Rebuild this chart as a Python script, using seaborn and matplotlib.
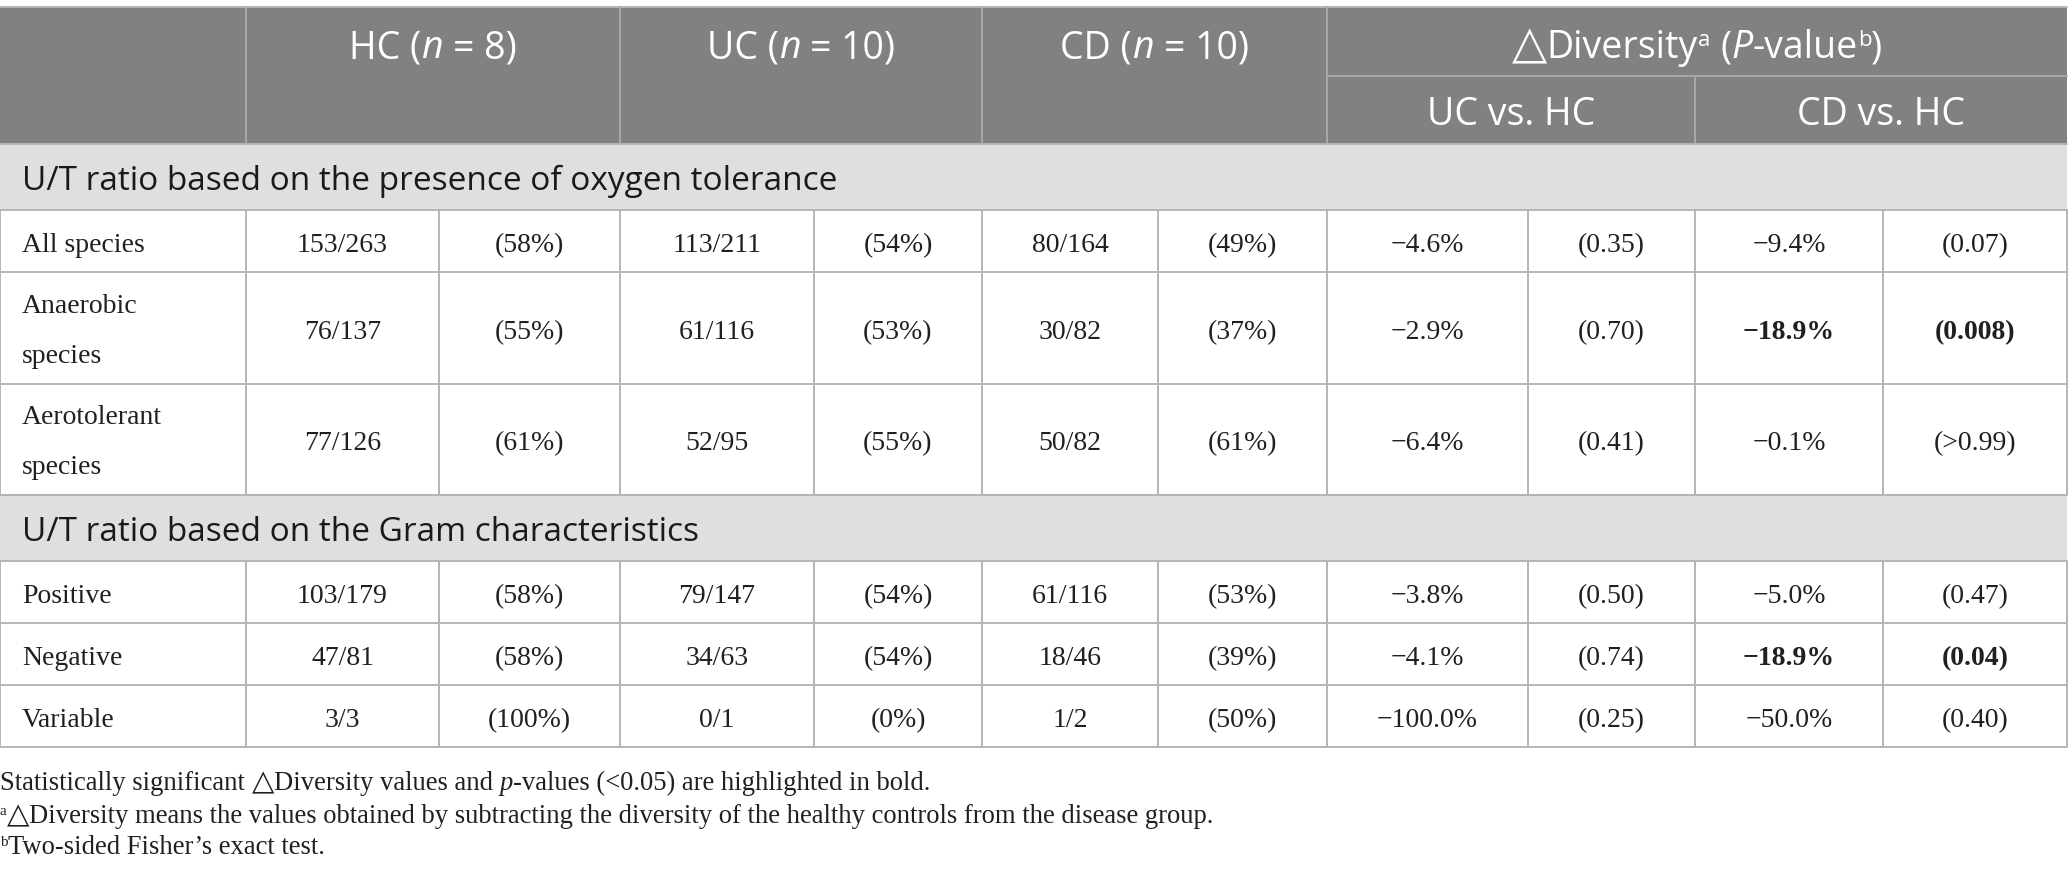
import matplotlib
matplotlib.use("Agg")
import matplotlib.pyplot as plt
from matplotlib.patches import Rectangle
import seaborn as sns

# ---- table values ----
group_names = ["HC", "UC", "CD"]
group_n = [8, 10, 10]
comparisons = ["UC vs. HC", "CD vs. HC"]
section_titles = ["U/T ratio based on the presence of oxygen tolerance",
                  "U/T ratio based on the Gram characteristics"]

oxy_labels = ["All species", "Anaerobic\nspecies", "Aerotolerant\nspecies"]
oxy_hc_u = [153, 76, 77]
oxy_hc_t = [263, 137, 126]
oxy_hc_pct = [58, 55, 61]
oxy_uc_u = [113, 61, 52]
oxy_uc_t = [211, 116, 95]
oxy_uc_pct = [54, 53, 55]
oxy_cd_u = [80, 30, 50]
oxy_cd_t = [164, 82, 82]
oxy_cd_pct = [49, 37, 61]
oxy_uc_diff = [-4.6, -2.9, -6.4]
oxy_uc_p = ["0.35", "0.70", "0.41"]
oxy_cd_diff = [-9.4, -18.9, -0.1]
oxy_cd_p = ["0.07", "0.008", ">0.99"]
oxy_cd_sig = [False, True, False]

gram_labels = ["Positive", "Negative", "Variable"]
gram_hc_u = [103, 47, 3]
gram_hc_t = [179, 81, 3]
gram_hc_pct = [58, 58, 100]
gram_uc_u = [79, 34, 0]
gram_uc_t = [147, 63, 1]
gram_uc_pct = [54, 54, 0]
gram_cd_u = [61, 18, 1]
gram_cd_t = [116, 46, 2]
gram_cd_pct = [53, 39, 50]
gram_uc_diff = [-3.8, -4.1, -100.0]
gram_uc_p = ["0.50", "0.74", "0.25"]
gram_cd_diff = [-5.0, -18.9, -50.0]
gram_cd_p = ["0.47", "0.04", "0.40"]
gram_cd_sig = [False, True, False]

# ---- layout (pixels) ----
W, H = 2068, 878
col_edges = [0, 246, 439, 620, 814, 982, 1158, 1327, 1528, 1695, 1883, 2067]
y_top, y_sub, y_head = 8, 77, 145
band_h = 66
row_h1, row_h2 = 62, 111.5
foot_y = [790, 823, 854]

HEAD_BG = "#808180"
HEAD_LINE = "#a9a9a9"
BAND_BG = "#e0dee0"
GRID = "#b5b5b5"
INK = "#231f20"

sns.set_theme(style="white")
plt.rcParams["font.family"] = ["Open Sans", "DejaVu Sans"]

SANS = dict(family=["Open Sans", "DejaVu Sans"], fontsize=24)
HEAD = dict(family=["Open Sans", "DejaVu Sans"], fontsize=27, color="white")
SERIF = dict(family=["Liberation Serif", "DejaVu Sans"], fontsize=20, color=INK)
FOOT = dict(family=["Liberation Serif", "DejaVu Sans"], fontsize=19.2, color=INK)

fig = plt.figure(figsize=(W / 100, H / 100), dpi=100)
ax = fig.add_axes([0, 0, 1, 1])
ax.set_xlim(0, W)
ax.set_ylim(H, 0)
ax.axis("off")
renderer = fig.canvas.get_renderer()


def text_w(s, style):
    if not s:
        return 0.0
    t = ax.text(0, 0, s, **style)
    w = t.get_window_extent(renderer=renderer).width
    t.remove()
    return w


def draw_runs(x, y, runs, ha="center"):
    """runs: (text, style, rise) pieces drawn on one baseline."""
    pieces = []
    total = 0.0
    for s, style, rise in runs:
        sp = text_w("a a", style) - text_w("aa", style)
        core = s.strip(" ")
        lead = len(s) - len(s.lstrip(" "))
        trail = len(s) - len(s.rstrip(" "))
        w = text_w(core, style)
        pieces.append((core, style, rise, lead * sp, w, trail * sp))
        total += lead * sp + w + trail * sp
    cx = x - total / 2 if ha == "center" else x
    for core, style, rise, lw, w, tw in pieces:
        cx += lw
        ax.text(cx, y - rise, core, ha="left", va="baseline", **style)
        cx += w + tw


def minus(v):
    return ("\u2212" if v < 0 else "") + f"{abs(v):.1f}%"


# ---- header ----
ax.add_patch(Rectangle((0, y_top), col_edges[-1], y_head - y_top,
                       facecolor=HEAD_BG, edgecolor="none"))
ax.plot([0, col_edges[-1]], [y_top, y_top], color=GRID, lw=1.4)
for xe in [col_edges[1], col_edges[3], col_edges[5], col_edges[7]]:
    ax.plot([xe, xe], [y_top, y_head], color=HEAD_LINE, lw=1.4)
ax.plot([col_edges[9], col_edges[9]], [y_sub, y_head], color=HEAD_LINE, lw=1.4)
ax.plot([col_edges[7], col_edges[-1]], [y_sub, y_sub], color=HEAD_LINE, lw=1.4)

head_it = dict(HEAD, style="italic")
head_sup = dict(HEAD, fontsize=16)
head_tri = dict(HEAD, family=["DejaVu Sans"], fontsize=33)
head_base = 58
for i, (g, n) in enumerate(zip(group_names, group_n)):
    cx = (col_edges[1 + 2 * i] + col_edges[3 + 2 * i]) / 2
    draw_runs(cx, head_base, [(g + " (", HEAD, 0), ("n", head_it, 0),
                              (f" = {n})", HEAD, 0)])
cx = (col_edges[7] + col_edges[-1]) / 2
draw_runs(cx, head_base, [("\u25b3", head_tri, 0),
                          ("Diversity", HEAD, 0), ("a", head_sup, 12),
                          (" (", HEAD, 0), ("P", head_it, 0), ("-value", HEAD, 0),
                          ("b", head_sup, 12), (")", HEAD, 0)])
for j, c in enumerate(comparisons):
    cx = (col_edges[7 + 2 * j] + col_edges[9 + 2 * j]) / 2
    draw_runs(cx, 125, [(c, HEAD, 0)])

# ---- body ----
sections = [
    (section_titles[0], oxy_labels,
     [oxy_hc_u, oxy_uc_u, oxy_cd_u], [oxy_hc_t, oxy_uc_t, oxy_cd_t],
     [oxy_hc_pct, oxy_uc_pct, oxy_cd_pct],
     [oxy_uc_diff, oxy_cd_diff], [oxy_uc_p, oxy_cd_p], oxy_cd_sig),
    (section_titles[1], gram_labels,
     [gram_hc_u, gram_uc_u, gram_cd_u], [gram_hc_t, gram_uc_t, gram_cd_t],
     [gram_hc_pct, gram_uc_pct, gram_cd_pct],
     [gram_uc_diff, gram_cd_diff], [gram_uc_p, gram_cd_p], gram_cd_sig),
]

band_text = dict(SANS, color="#1a1a1a")
y = y_head
xr = col_edges[-1]
for title, labels, us, ts, pcts, diffs, ps, sig in sections:
    ax.add_patch(Rectangle((0, y), xr, band_h, facecolor=BAND_BG, edgecolor="none"))
    ax.plot([0, xr], [y, y], color=GRID, lw=1.4)
    draw_runs(22, y + band_h / 2 + 12, [(title, band_text, 0)], ha="left")
    y += band_h
    ax.plot([0, xr], [y, y], color=GRID, lw=1.4)
    for r, lab in enumerate(labels):
        h = row_h2 if "\n" in lab else row_h1
        mid = y + h / 2
        base = mid + 10
        for xe in col_edges:
            ax.plot([xe, xe], [y, y + h], color=GRID, lw=1.4)
        lines = lab.split("\n")
        if len(lines) == 1:
            ax.text(22, base, lines[0], ha="left", va="baseline", **SERIF)
        else:
            ax.text(22, mid - 16, lines[0], ha="left", va="baseline", **SERIF)
            ax.text(22, mid + 34, lines[1], ha="left", va="baseline", **SERIF)
        cells = []
        for g in range(3):
            cells.append((f"{us[g][r]}/{ts[g][r]}", False))
            cells.append((f"({pcts[g][r]}%)", False))
        for k in range(2):
            bold = sig[r] if k == 1 else False
            cells.append((minus(diffs[k][r]), bold))
            cells.append((f"({ps[k][r]})", bold))
        for c, (s, bold) in enumerate(cells):
            cx = (col_edges[1 + c] + col_edges[2 + c]) / 2
            st = dict(SERIF, fontweight="bold") if bold else SERIF
            ax.text(cx, base, s, ha="center", va="baseline", **st)
        y += h
        ax.plot([0, xr], [y, y], color=GRID, lw=1.4)

# ---- footnotes ----
foot_it = dict(FOOT, style="italic")
foot_sup = dict(FOOT, fontsize=11)
tri = dict(FOOT, family=["DejaVu Sans"], fontsize=21)
draw_runs(0, foot_y[0], [("Statistically significant ", FOOT, 0), ("\u25b3", tri, 0),
                         ("Diversity values and ", FOOT, 0), ("p", foot_it, 0),
                         ("-values (<0.05) are highlighted in bold.", FOOT, 0)], ha="left")
draw_runs(0, foot_y[1], [("a", foot_sup, 8), ("\u25b3", tri, 0),
                         ("Diversity means the values obtained by subtracting the diversity "
                          "of the healthy controls from the disease group.", FOOT, 0)], ha="left")
draw_runs(0, foot_y[2], [("b", foot_sup, 8),
                         ("Two-sided Fisher\u2019s exact test.", FOOT, 0)], ha="left")

fig.savefig("out.png", dpi=100, facecolor="white")
